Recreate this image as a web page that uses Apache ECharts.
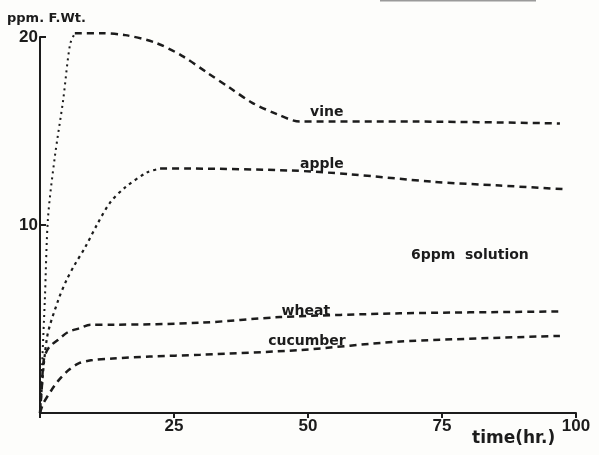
<!DOCTYPE html>
<html><head><meta charset="utf-8">
<script src="https://cdn.jsdelivr.net/npm/echarts@6/dist/echarts.min.js"></script>
<style>html,body{margin:0;padding:0;background:#fdfdfb;}#c{width:599px;height:455px;}</style>
</head><body><div id="c"></div>
<script>
// time (hr.) vs ppm F.Wt.
const xTicks = [25, 50, 75, 100];
const yTicks = [10, 20];
const vineRise = [[0,0],[0.9,6.0],[1.5,10.4],[2.8,13.7],[4.3,16.6],[5.6,19.6],[6.5,20.2]];
const vineRest = [[6.5,20.2],[11.2,20.2],[15.9,20.1],[21.5,19.7],[26.5,19.0],[31.2,18.1],[35.4,17.3],[39.6,16.5],[44.2,15.9],[48.5,15.5],[70,15.5],[97,15.4]];
const appleRise = [[0,0],[1.3,4.0],[3.4,6.0],[5.0,7.1],[6.5,7.9],[8.4,8.8],[10.6,10.0],[13.1,11.2],[15.9,12.0],[20,12.8],[22.4,13.0]];
const appleRest = [[22.4,13.0],[28,13.0],[46.6,12.9],[57.8,12.7],[73.3,12.3],[85.8,12.1],[98,11.9]];
const wheat = [[0,0],[0.3,1.2],[0.75,2.9],[1.7,3.5],[3.4,3.9],[5.2,4.3],[7.3,4.5],[9.5,4.7],[13.6,4.7],[29.9,4.8],[44.8,5.1],[67.2,5.3],[97,5.4]];
const cucumber = [[0,0],[0.6,0.5],[2.1,1.2],[3.5,1.75],[5.4,2.3],[7.3,2.65],[9.5,2.8],[13.6,2.9],[20.5,3.0],[29.9,3.1],[48.5,3.35],[67.2,3.8],[97,4.1]];
const curveLabels = [[53.5,16.0,'vine'],[52.6,13.2,'apple'],[49.6,5.4,'wheat'],[49.8,3.8,'cucumber'],[80.2,8.4,'6ppm  solution']];
const yName = 'ppm. F.Wt.';
const xName = 'time(hr.)';

const ink = '#1c1c1c';
const font = 'Liberation Sans, Arial, sans-serif';
const lblFont = '"DejaVu Sans", sans-serif';
const chart = echarts.init(document.getElementById('c'));
function line(data, type, w) {
  return {type:'line', data, smooth:0.3, symbol:'none', clip:false, silent:true,
    lineStyle:{color:ink, width:w, type:type, cap:'butt'}};
}
chart.setOption({
  backgroundColor:'#fdfdfb',
  animation:false,
  grid:{left:40, right:23, top:37, bottom:42},
  xAxis:{type:'value', min:0, max:100, interval:25,
    axisLine:{lineStyle:{color:ink, width:2}},
    axisTick:{show:true, length:5, lineStyle:{color:ink, width:2}},
    splitLine:{show:false},
    axisLabel:{color:ink, fontFamily:font, fontWeight:'bold', fontSize:17, margin:5,
      formatter:v=>xTicks.includes(v)?String(v):''}},
  yAxis:{type:'value', min:0, max:20, interval:10,
    axisLine:{show:true, lineStyle:{color:ink, width:2}},
    axisTick:{show:true, inside:true, length:6, lineStyle:{color:ink, width:2}},
    splitLine:{show:false},
    axisLabel:{color:ink, fontFamily:font, fontWeight:'bold', fontSize:17, margin:2,
      formatter:v=>yTicks.includes(v)?String(v):''}},
  series:[
    line(vineRise, [2,4], 2),
    line(vineRest, [7,5], 2.5),
    line(appleRise, [3,4], 2.2),
    line(appleRest, [7,5], 2.5),
    line(wheat, [7,5], 2.5),
    line(cucumber, [7,5], 2.5),
    {type:'scatter', data:curveLabels, symbolSize:0, silent:true,
      itemStyle:{opacity:1},
      label:{show:true, position:'inside', color:ink, fontFamily:lblFont, fontWeight:'bold', fontSize:14,
        textBorderWidth:0, opacity:1,
        formatter:p=>p.value[2]}}
  ],
  graphic:[
    {type:'text', left:7, top:12, style:{text:yName, fill:ink, font:'bold 13px "DejaVu Sans", sans-serif'}},
    {type:'text', left:472, top:430, style:{text:xName, fill:ink, font:'bold 17px "DejaVu Sans", sans-serif'}},
    {type:'rect', shape:{x:380, y:0, width:156, height:1.5}, style:{fill:'#9a9a9a'}}
  ]
});
</script></body></html>
